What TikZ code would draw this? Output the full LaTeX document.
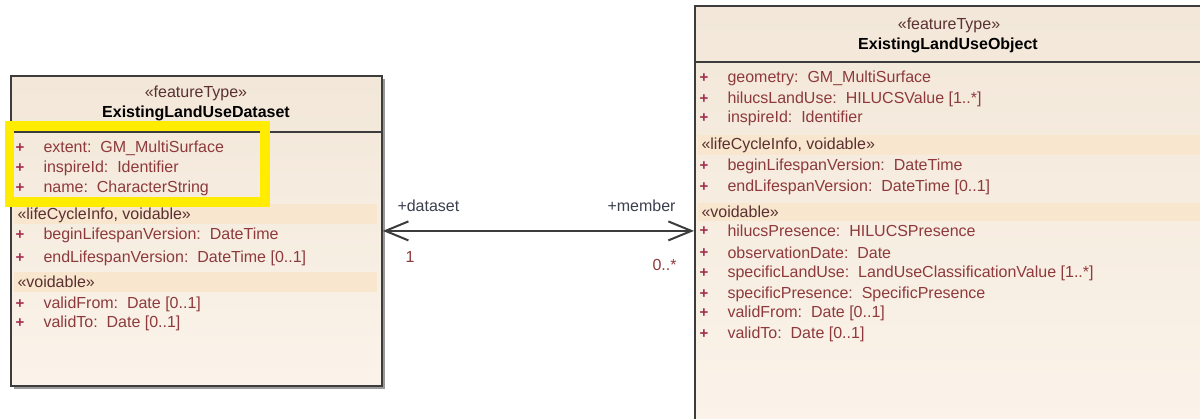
\documentclass[tikz,border=0pt]{standalone}
\usepackage{fontspec}
\setmainfont{Liberation Sans}
\usetikzlibrary{arrows.meta}
\definecolor{boxline}{HTML}{3C3C3C}
\definecolor{boxtop}{HTML}{F2E7D8}
\definecolor{boxbot}{HTML}{FBF3EA}
\definecolor{bandfill}{HTML}{F8E6CE}
\definecolor{shadowgray}{HTML}{9A9A9A}
\definecolor{attrred}{HTML}{8E3A3C}
\definecolor{plusred}{HTML}{A32E4E}
\definecolor{stereobrown}{HTML}{5A3030}
\definecolor{rolegray}{HTML}{3B3F4E}
\definecolor{hiyellow}{HTML}{FFEC00}

\tikzset{
  umlbox/.style={draw=boxline,line width=1.8pt,top color=boxtop,bottom color=boxbot,
    inner sep=0pt,anchor=north west},
  attr/.style={anchor=west,inner sep=0pt,text=attrred,font=\fontsize{16}{18}\selectfont},
  plus/.style={anchor=center,inner sep=0pt,text=plusred,font=\fontsize{15}{18}\selectfont\bfseries},
  stereo/.style={anchor=west,inner sep=0pt,text=stereobrown,font=\fontsize{16}{18}\selectfont},
  title/.style={inner sep=0pt,font=\fontsize{16}{18}\selectfont\bfseries},
  role/.style={anchor=west,inner sep=0pt,text=rolegray,font=\fontsize{16}{18}\selectfont},
  mult/.style={anchor=west,inner sep=0pt,text=attrred,font=\fontsize{16}{18}\selectfont},
}

\begin{document}
\begin{tikzpicture}[x=1pt,y=-1pt,line width=1pt]
\useasboundingbox (0,0) rectangle (1200,418);
% attribute row: name, x, y, text
\newcommand\umlattr[4]{{%
  \node[plus] (#1p) at (#2,#3) {+};
  \node[attr] (#1) at ({#2+23},#3) {#4};}}

% --- ExistingLandUseDataset ---
\fill[shadowgray] (14,79) rectangle (385,389);
\node[umlbox,minimum width=371,minimum height=310] (dsbox) at (10,75) {};
\node[title,font=\fontsize{16}{18}\selectfont,text=stereobrown] (dsst) at (196,93) {«featureType»};
\node[title] (dsname) at (196,113) {ExistingLandUseDataset};
\draw[boxline,line width=1.5pt] (10,132) -- (381,132);
\fill[bandfill] (14,204) rectangle (377,224);
\fill[bandfill] (14,272) rectangle (377,292);
\node[stereo] (dsb1) at (17,215) {«lifeCycleInfo, voidable»};
\node[stereo] (dsb2) at (17,282) {«voidable»};
\foreach \yy/\t [count=\i] in {148/{extent:\ \ GM\_MultiSurface},
    168/{inspireId:\ \ Identifier}, 188/{name:\ \ CharacterString},
    235/{beginLifespanVersion:\ \ DateTime}, 258/{endLifespanVersion:\ \ DateTime [0..1]},
    304/{validFrom:\ \ Date [0..1]}, 323/{validTo:\ \ Date [0..1]}}
  \umlattr{dsa\i}{20}{\yy}{\t};
% highlight
\draw[hiyellow,line width=9.5pt] (9.5,126) rectangle (265,202);

% --- ExistingLandUseObject ---
\fill[shadowgray] (697,10) rectangle (1210,430);
\node[umlbox,minimum width=512,minimum height=425] (obbox) at (694,5) {};
\node[title,font=\fontsize{16}{18}\selectfont,text=stereobrown] (obst) at (949,25) {«featureType»};
\node[title] (obname) at (948,45) {ExistingLandUseObject};
\draw[boxline,line width=1.5pt] (694,62) -- (1206,62);
\fill[bandfill] (698,135) rectangle (1206,155);
\fill[bandfill] (698,203) rectangle (1206,221);
\node[stereo] (obb1) at (701,145) {«lifeCycleInfo, voidable»};
\node[stereo] (obb2) at (701,212) {«voidable»};
\foreach \yy/\t [count=\i] in {78/{geometry:\ \ GM\_MultiSurface},
    99/{hilucsLandUse:\ \ HILUCSValue [1..*]}, 118/{inspireId:\ \ Identifier},
    166/{beginLifespanVersion:\ \ DateTime}, 187/{endLifespanVersion:\ \ DateTime [0..1]},
    231/{hilucsPresence:\ \ HILUCSPresence}, 253/{observationDate:\ \ Date},
    273/{specificLandUse:\ \ LandUseClassificationValue [1..*]},
    294/{specificPresence:\ \ SpecificPresence},
    313/{validFrom:\ \ Date [0..1]}, 334/{validTo:\ \ Date [0..1]}}
  \umlattr{oba\i}{704}{\yy}{\t};

% association, navigable both ways
\draw[boxline,line width=2pt,
  {Straight Barb[length=23pt,width=19pt]}-{Straight Barb[length=23pt,width=19pt]}]
  (dsbox.east) -- (obbox.west |- dsbox.east);
\node[role] (dsrole) at (397,206) {+dataset};
\node[mult] (dsmult) at (405,257) {1};
\node[role] (obrole) at (607,206) {+member};
\node[mult] (obmult) at (652,265) {0..*};
\end{tikzpicture}
\end{document}
